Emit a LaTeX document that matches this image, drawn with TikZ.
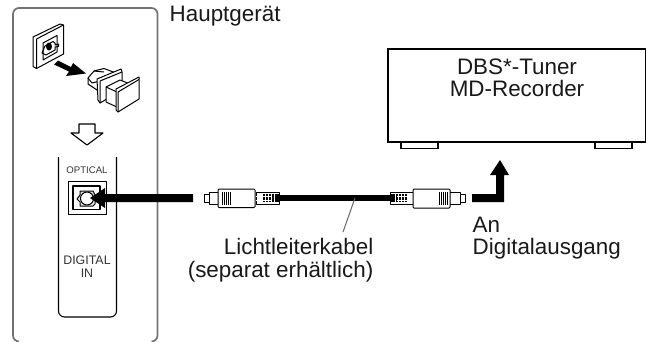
\documentclass[tikz,border=0pt]{standalone}
\usepackage{fontspec}
\setmainfont{Liberation Sans}
\tikzset{
  lab/.style={inner sep=0pt,font=\fontsize{22.4}{22.5}\selectfont,text=black!90},
  smalllab/.style={inner sep=0pt,font=\fontsize{12.4}{13.3}\selectfont,text=black!80},
  tinylab/.style={inner sep=0pt,font=\fontsize{9.6}{10}\selectfont,text=black!80},
  thinline/.style={draw=black,line width=1pt,line join=round},
  capface/.style={draw=black,fill=white,line width=1pt,line join=round},
  plugpart/.style={draw=black,fill=white,line width=1pt,line join=round},
  bigarrow/.style={fill=black,draw=none},
}
\begin{document}
\begin{tikzpicture}[x=1pt,y=-1pt]
\useasboundingbox (0,0) rectangle (646,341);
% main unit outline
\draw[draw=black!55,line width=1.7pt,rounded corners=6pt] (19,341.5) -- (13,341.5) -- (13,8) -- (157.5,8) -- (157.5,341.5) -- (151.5,341.5);
% socket strip
\draw[line width=1.1pt,rounded corners=6pt] (58.5,157) -- (58.5,317) -- (116.5,317) -- (116.5,157);
\node[tinylab] (opt) at (87,170.5) {OPTICAL};
\node[smalllab,align=center] (dig) at (87,267) {DIGITAL\\IN};
% socket
\draw[thinline] (68,181) rectangle (106,214);
\draw[thinline,line width=1.2pt] (73,186) rectangle (100,209.5);
\draw[thinline,fill=black!10] (80,191) -- (93,191) -- (95,195) -- (95,204) -- (93,206) -- (80,206) -- (80,202) -- (77,199) -- (80,195) -- cycle;
\draw[thinline,fill=white] (87,198.5) circle (6.5);
% long arrow to socket
\fill[bigarrow] (193,194) -- (105,194) -- (105,188) -- (90,198) -- (105,208) -- (105,202) -- (193,202) -- cycle;
% top socket plate
\draw[capface] (33,37) -- (60,24) -- (63.5,25) -- (63.5,54) -- (36.5,68.5) -- (33,66.5) -- cycle;
\draw[thinline] (36.5,39) -- (63.5,25) (36.5,39) -- (36.5,68.5);
\draw[thinline] (43,43) -- (57,35.5) -- (57,52) -- (43,60) -- cycle;
\draw[thinline] (45,46) -- (53,41.5) -- (55,43) -- (55,45) -- (58.5,44) -- (58.5,46.5) -- (55,47) -- (55,50) -- (46,55) -- (42,53) -- cycle;
\fill (49,46.5) ellipse (3 and 4);
% small arrow
\fill[bigarrow] (54,64.5) -- (58,60.5) -- (71,67) -- (73,63) -- (86,73.5) -- (66,76) -- (69,71.5) -- cycle;
% protective cap
\draw[capface] (88,78) -- (94,71) -- (104,68.5) -- (116,73) -- (116,87) -- (100,92) -- (88,84) -- cycle;
\draw[thinline] (88,78) -- (92,83) -- (104,80);
\draw[thinline] (94,71) -- (104,72);
\draw[capface] (97,79) -- (121,69) -- (122,72) -- (122,90) -- (100,103) -- (98,100) -- cycle;
\draw[thinline] (100,81) -- (122,72) (100,81) -- (100,103);
\draw[capface] (106,87) -- (120,80) -- (130,84) -- (130,100) -- (117,107) -- (106,102) -- cycle;
\draw[thinline] (106,87) -- (117,92);
\draw[capface] (116,89) -- (139,77) -- (139,99) -- (118,112) -- (116,110) -- cycle;
\draw[thinline] (118,92) -- (139,79.5) (118,92) -- (118,112);
% open down arrow
\draw[capface,line width=1.1pt] (79,124) -- (95,124) -- (95,133) -- (103,133) -- (87,145) -- (71,133) -- (79,133) -- cycle;
% cable
\draw[line width=6pt] (270,198) -- (395,198);
% left plug
\draw[plugpart] (204,194) rectangle (209,202.5);
\draw[plugpart] (209,192.5) rectangle (220,204);
\draw[plugpart] (256,192) rectangle (279,204);
\fill (262,194) rectangle (279,202);
\foreach \x in {259,262,265,268,271,274}{\draw[white,line width=.7pt] (\x,193.5) -- (\x,202);}
\draw[white,line width=.7pt] (256,196) -- (272,196) (256,200) -- (272,200);
\draw[plugpart,rounded corners=1pt] (218,189) rectangle (255,207.5);
\foreach \x in {222,224,226,228,230}{\draw[line width=.5pt] (\x,192) -- (\x,204.5);}
% right plug
\draw[plugpart] (460,194) rectangle (465,202.5);
\draw[plugpart] (449,192.5) rectangle (460,204);
\draw[plugpart] (390,192) rectangle (413,204);
\fill (390,194) rectangle (407,202);
\foreach \x in {395,398,401,404,407,410}{\draw[white,line width=.7pt] (\x,193.5) -- (\x,202);}
\draw[white,line width=.7pt] (397,196) -- (413,196) (397,200) -- (413,200);
\draw[plugpart,rounded corners=1pt] (413,189) rectangle (450,208);
\foreach \x in {439,441,443,445,447}{\draw[line width=.5pt] (\x,192) -- (\x,204.5);}
% pointer
\coordinate (pA) at (355,198);
\coordinate (pB) at (343,232);
\draw[draw=black!60,line width=1pt] (pA) -- (pB);
% tuner
\draw[fill=white,line width=1.1pt] (401,141) rectangle (438,148.5);
\draw[fill=white,line width=1.1pt] (595,141) rectangle (632,148.5);
\node[draw=black,line width=1.7pt,fill=white,minimum width=258pt,minimum height=93pt,inner sep=0pt,anchor=north west] (tuner) at (387,48) {};
\node[lab,align=center] (tt) at (517,78) {DBS*-Tuner\\MD-Recorder};
% L arrow
\fill[bigarrow] (472,194) -- (496,194) -- (496,175) -- (490,175) -- (500,160) -- (509,175) -- (504,175) -- (504,202) -- (472,202) -- cycle;
% labels
\node[lab,anchor=base west] (haupt) at (169.5,21.7) {Hauptgerät};
\node[lab,align=right,anchor=east] (kabel) at (373.5,260) {Lichtleiterkabel\\(separat erhältlich)};
\node[lab,align=left,anchor=north west] (an) at (472.5,216.7) {An\\Digitalausgang};
\end{tikzpicture}
\end{document}
